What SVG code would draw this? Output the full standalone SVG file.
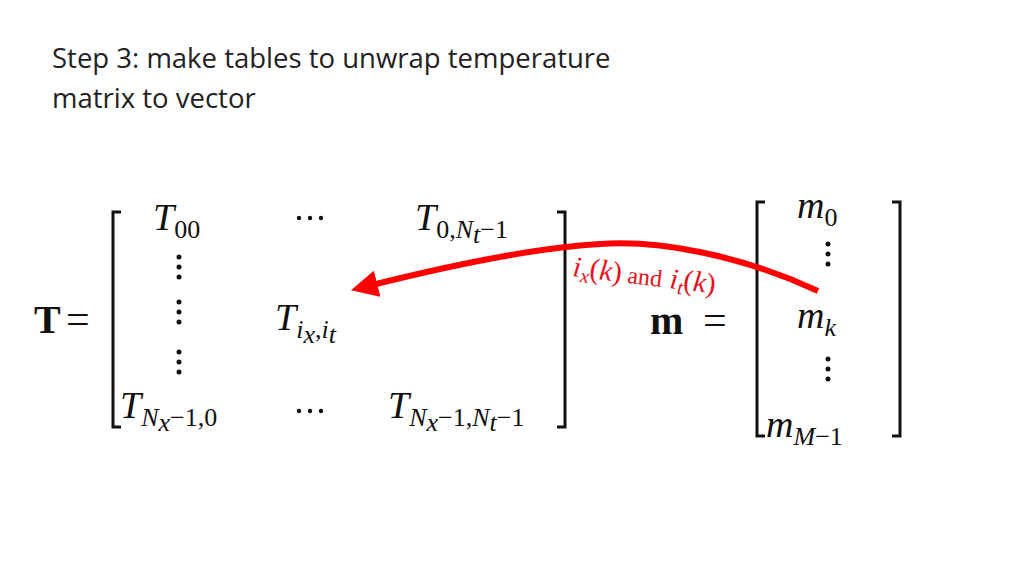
<svg xmlns="http://www.w3.org/2000/svg" width="1024" height="576" viewBox="0 0 1024 576">
<style>
.t{font-family:"Open Sans","Liberation Sans",sans-serif;font-size:27.5px;fill:#222}
.m{font-family:"Liberation Serif","DejaVu Serif",serif;font-style:italic;font-size:38px;fill:#111}
.s{font-size:26px;font-style:normal}
.si{font-size:26px}
.b{font-family:"Liberation Serif",serif;font-weight:bold;font-size:40px;fill:#111}
.eq{font-family:"Liberation Serif",serif;font-size:42px;fill:#111}
.br{fill:none;stroke:#111;stroke-width:3}
.r{font-family:"Liberation Serif",serif;font-size:29px;fill:#e8101a}
</style>
<defs>
<marker id="ah" viewBox="0 0 10 10" refX="2" refY="5" markerWidth="4.5" markerHeight="4.5" orient="auto"><path d="M0,0L10,5L0,10z" fill="#f00"/></marker>
<g id="vd"><circle cx="0" cy="0" r="2.5" fill="#111"/><circle cx="0" cy="10" r="2.5" fill="#111"/><circle cx="0" cy="20" r="2.5" fill="#111"/></g>
<g id="hd"><circle cx="0" cy="0" r="2.2" fill="#111"/><circle cx="11" cy="0" r="2.2" fill="#111"/><circle cx="22" cy="0" r="2.2" fill="#111"/></g>
</defs>
<g id="title"><text class="t" x="52" y="68">Step 3: make tables to unwrap temperature</text><text class="t" x="52" y="108">matrix to vector</text></g>
<g id="Tmatrix">
<text class="b" x="34" y="333">T</text><text class="eq" x="66" y="333">=</text>
<path class="br" d="M121,212H113V427H121"/><path class="br" d="M557,212H565V427H557"/>
<text class="m" x="153" y="230">T<tspan class="s" dy="8">00</tspan></text>
<use href="#hd" x="299" y="218"/>
<text class="m" x="415" y="230">T<tspan class="s" dy="8">0,</tspan><tspan class="si">N</tspan><tspan class="si" font-size="18" dy="5">t</tspan><tspan class="s" dy="-5">−1</tspan></text>
<use href="#vd" x="179" y="257"/><use href="#vd" x="179" y="302"/><use href="#vd" x="179" y="352"/>
<text class="m" x="275" y="330">T<tspan class="si" dy="8">i</tspan><tspan class="si" font-size="18" dy="5">x</tspan><tspan class="s" dy="-5">,</tspan><tspan class="si">i</tspan><tspan class="si" font-size="18" dy="5">t</tspan></text>
<text class="m" x="120" y="418">T<tspan class="si" dy="8">N</tspan><tspan class="si" font-size="18" dy="5">x</tspan><tspan class="s" dy="-5">−1,0</tspan></text>
<use href="#hd" x="299" y="411"/>
<text class="m" x="388" y="418">T<tspan class="si" dy="8">N</tspan><tspan class="si" font-size="18" dy="5">x</tspan><tspan class="s" dy="-5">−1,</tspan><tspan class="si">N</tspan><tspan class="si" font-size="18" dy="5">t</tspan><tspan class="s" dy="-5">−1</tspan></text>
</g>
<g id="mvector">
<text class="b" x="650" y="334">m</text><text class="eq" x="703" y="334">=</text>
<path class="br" d="M765,202H757V436H765"/><path class="br" d="M892,202H900V436H892"/>
<text class="m" x="797" y="218">m<tspan class="s" dy="8">0</tspan></text>
<use href="#vd" x="828" y="244"/>
<text class="m" x="797" y="328">m<tspan class="si" dy="8">k</tspan></text>
<use href="#vd" x="828" y="359"/>
<text class="m" x="766" y="437">m<tspan class="si" dy="8">M</tspan><tspan class="s">−1</tspan></text>
</g>
<g id="connectors">
<path d="M818,291C740,255 660,240 600,244C530,248 440,268 372,285" fill="none" stroke="#f00" stroke-width="6" marker-end="url(#ah)"/>
<text class="r" x="572" y="276" font-style="italic" transform="rotate(7 572 276)">i<tspan font-size="20" dy="5">x</tspan><tspan dy="-5" font-style="normal">(</tspan>k<tspan font-style="normal">)</tspan><tspan font-style="normal" font-size="24" dx="6">and</tspan><tspan dx="8">i</tspan><tspan font-size="20" dy="5">t</tspan><tspan dy="-5" font-style="normal">(</tspan>k<tspan font-style="normal">)</tspan></text>
</g>
</svg>
